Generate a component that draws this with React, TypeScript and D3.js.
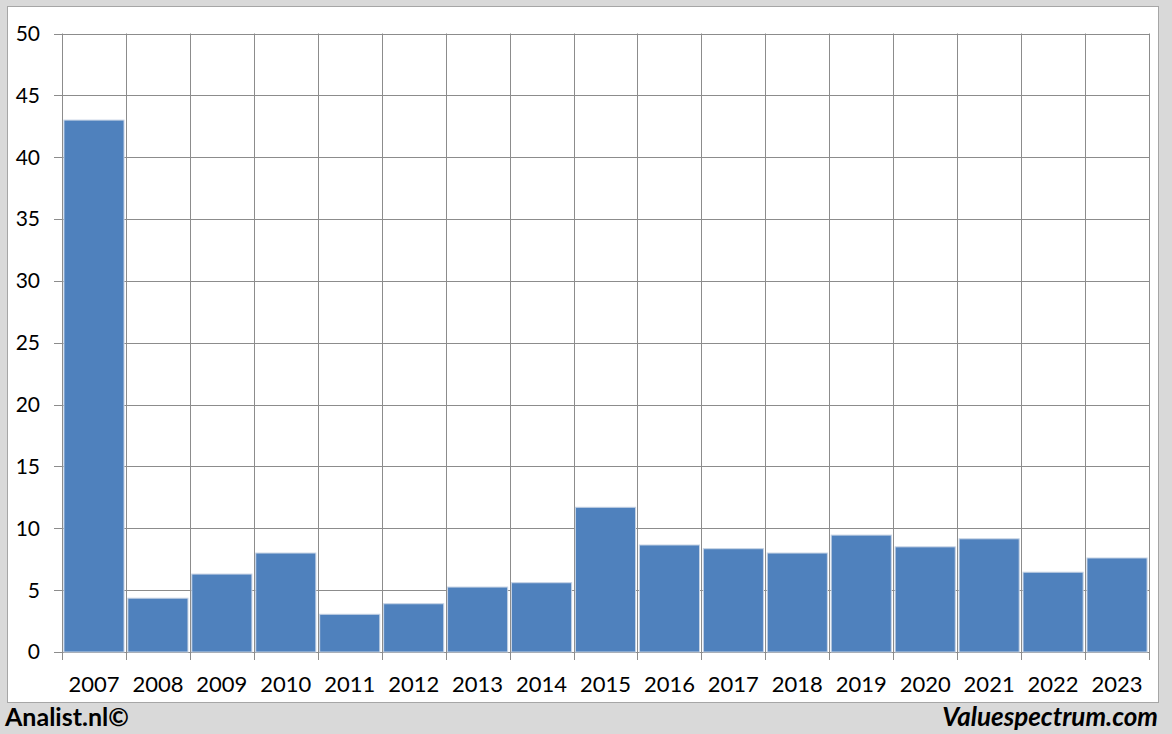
import React, { useEffect, useRef } from 'react';
import * as d3 from 'd3';

const years = ['2007', '2008', '2009', '2010', '2011', '2012', '2013', '2014', '2015', '2016', '2017', '2018', '2019', '2020', '2021', '2022', '2023'];
const values = [43.0, 4.35, 6.3, 8.0, 3.05, 3.9, 5.25, 5.6, 11.7, 8.65, 8.35, 8.0, 9.45, 8.5, 9.15, 6.45, 7.6];
const yTicks = [0, 5, 10, 15, 20, 25, 30, 35, 40, 45, 50];

const App: React.FC = () => {
  const svgRef = useRef<SVGSVGElement>(null);

  useEffect(() => {
    if (!svgRef.current) return;
    const svg = d3.select(svgRef.current);
    svg.selectAll('*').remove();

    const width = 1172;
    const height = 734;
    const font = 'Lato, "Open Sans", sans-serif';

    // background frame
    svg.append('rect').attr('width', width).attr('height', height).attr('fill', '#d9d9d9');
    svg.append('rect')
      .attr('x', 7.5).attr('y', 6.5).attr('width', 1151).attr('height', 696)
      .attr('fill', '#fff').attr('stroke', '#a6a6a6').attr('stroke-width', 1);

    const pad = 0.06;
    const x = d3.scaleBand().domain(years).range([62, 1149]).paddingInner(pad).paddingOuter(pad / 2);
    const y = d3.scaleLinear().domain([0, 50]).range([652, 33.5]);
    const step = x.step();
    const edge = (d: string) => (x(d) ?? 0) - step * pad / 2;

    // horizontal grid
    svg.append('g').selectAll('line')
      .data(yTicks)
      .enter().append('line')
      .attr('x1', 54).attr('x2', 1149)
      .attr('y1', d => Math.round(y(d)) + 0.5).attr('y2', d => Math.round(y(d)) + 0.5)
      .attr('stroke', '#8c8c8c').attr('stroke-width', 1);

    // vertical grid at category boundaries
    const bounds = years.map(edge).concat([1149]);
    svg.append('g').selectAll('line')
      .data(bounds)
      .enter().append('line')
      .attr('x1', d => Math.round(d) + 0.5).attr('x2', d => Math.round(d) + 0.5)
      .attr('y1', 33.5).attr('y2', 660)
      .attr('stroke', '#8c8c8c').attr('stroke-width', 1);

    // bars
    svg.append('g').selectAll('rect')
      .data(values)
      .enter().append('rect')
      .attr('x', (_, i) => x(years[i]) ?? 0)
      .attr('width', x.bandwidth())
      .attr('y', d => y(d))
      .attr('height', d => y(0) - y(d))
      .attr('fill', '#4f81bd')
      .attr('stroke', '#c5d2e4')
      .attr('stroke-width', 1);

    // y labels
    svg.append('g').selectAll('text')
      .data(yTicks)
      .enter().append('text')
      .attr('x', 40).attr('y', d => y(d))
      .attr('dy', '0.35em')
      .attr('text-anchor', 'end')
      .style('font-family', font).style('font-size', '21px').style('fill', '#000')
      .text(d => d);

    // x labels
    svg.append('g').selectAll('text')
      .data(years)
      .enter().append('text')
      .attr('x', d => (x(d) ?? 0) + x.bandwidth() / 2)
      .attr('y', 692)
      .attr('text-anchor', 'middle')
      .style('font-family', font).style('font-size', '22px').style('fill', '#000')
      .text(d => d);

    // footer
    svg.append('text')
      .attr('x', 5).attr('y', 726)
      .style('font-family', font).style('font-size', '25px').style('font-weight', 'bold').style('fill', '#000')
      .text('Analist.nl©');
    svg.append('text')
      .attr('x', 1158).attr('y', 726)
      .attr('text-anchor', 'end')
      .style('font-family', font).style('font-size', '26px').style('font-weight', 'bold').style('font-style', 'italic').style('fill', '#000')
      .text('Valuespectrum.com');
  }, []);

  return <svg ref={svgRef} width={1172} height={734} style={{ position: 'absolute', left: 0, top: 0 }} />;
};

export default App;
